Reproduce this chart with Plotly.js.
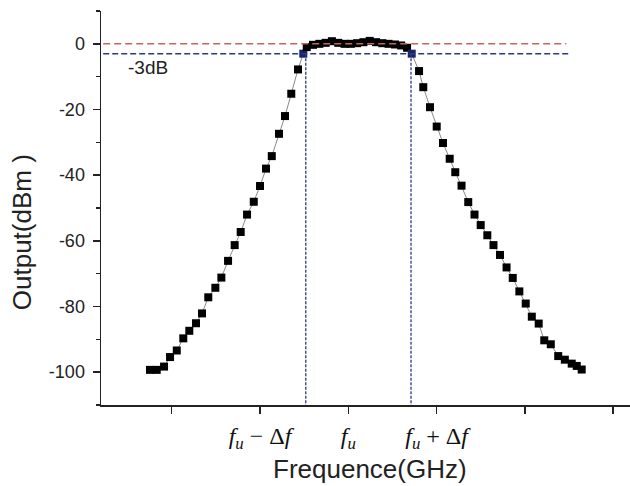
<!DOCTYPE html>
<html>
<head>
<meta charset="utf-8">
<script src="https://cdn.plot.ly/plotly-3.0.1.min.js"></script>
<style>
  html, body { margin: 0; padding: 0; background: #fff; }
  #chart { width: 630px; height: 486px; }
</style>
</head>
<body>
<div id="chart"></div>
<script>
// ---- data ----
const freq = [0.754, 0.830, 0.913, 0.981, 1.057, 1.131, 1.199, 1.275, 1.343, 1.414,
  1.494, 1.562, 1.638, 1.713, 1.781, 1.853, 1.929, 2.000, 2.068, 2.133,
  2.215, 2.283, 2.354, 2.430, 2.490,
  2.529, 2.600, 2.672, 2.743, 2.814, 2.886, 2.957, 3.028, 3.100, 3.171,
  3.242, 3.314, 3.385, 3.456, 3.528, 3.599, 3.665,
  3.718, 3.801, 3.849, 3.925, 4.001, 4.072, 4.148, 4.211, 4.282, 4.358,
  4.429, 4.499, 4.574, 4.644, 4.718, 4.792, 4.862, 4.937, 5.009, 5.078,
  5.156, 5.219, 5.293, 5.377, 5.452, 5.530, 5.587, 5.643];
const output = [-99.3, -99.3, -98.3, -95.4, -93.4, -89.7, -87.4, -85.1, -82.1, -77.2,
  -74.3, -71.2, -66.1, -61.3, -57.3, -52.0, -48.1, -43.3, -38.0, -34.2,
  -27.4, -22.0, -15.2, -7.8, -3.0,
  -1.0, -0.3, 0, 0.3, 0.8, 0.3, 0, 0, 0.2, 0.5,
  0.9, 0.5, 0.2, 0, -0.2, -0.5, -1.2,
  -3.0, -8.3, -13.2, -19.3, -25.2, -30.2, -35.0, -39.1, -43.2, -48.2,
  -52.0, -55.2, -58.3, -61.3, -64.3, -68.1, -71.3, -75.4, -79.1, -83.1,
  -85.2, -90.3, -91.5, -95.1, -96.2, -97.4, -98.1, -99.2];

const refLevel = 0;          // dBm
const halfPowerLevel = -3;   // dB
const refLineX = [0.224, 5.47];
const halfLineX = [0.224, 5.52];
const bandEdges = [2.518, 3.710];

const xTickVals = [1, 2, 3, 4, 5, 6];
const xTickText = ['', '<i>f</i><sub><i>u</i></sub> \u2212 \u0394<i>f</i>', '<i>f</i><sub><i>u</i></sub>',
  '<i>f</i><sub><i>u</i></sub> + \u0394<i>f</i>', '', ''];
const yTickVals = [0, -20, -40, -60, -80, -100];
const yTickText = ['0', '-20', '-40', '-60', '-80', '-100'];

const xTitle = 'Frequence(GHz)';
const yTitle = 'Output(dBm )';
const halfLabel = '-3dB';

// ---- styling ----
const markerColors = output.map(v => v === halfPowerLevel ? '#1c2466' : '#000000');

const traces = [
  {
    x: freq, y: output, type: 'scatter', mode: 'lines+markers',
    line: {color: '#8a8a8a', width: 1},
    marker: {symbol: 'square', size: 8, color: markerColors},
    hoverinfo: 'skip'
  },
  {
    x: refLineX, y: [refLevel, refLevel], type: 'scatter', mode: 'lines',
    line: {color: '#c4665a', width: 1.5, dash: '7px,4px'}, hoverinfo: 'skip'
  },
  {
    x: halfLineX, y: [halfPowerLevel, halfPowerLevel], type: 'scatter', mode: 'lines',
    line: {color: '#2b3a80', width: 1.5, dash: '6px,3px'}, hoverinfo: 'skip'
  },
  {
    x: [bandEdges[0], bandEdges[0]], y: [halfPowerLevel, -110], type: 'scatter', mode: 'lines',
    line: {color: '#2b3a80', width: 1.3, dash: '3px,1.5px'}, hoverinfo: 'skip'
  },
  {
    x: [bandEdges[1], bandEdges[1]], y: [halfPowerLevel, -110], type: 'scatter', mode: 'lines',
    line: {color: '#2b3a80', width: 1.3, dash: '3px,1.5px'}, hoverinfo: 'skip'
  }
];

const layout = {
  width: 630, height: 486,
  margin: {l: 101, r: 0, t: 11, b: 81},
  paper_bgcolor: '#ffffff', plot_bgcolor: '#ffffff',
  showlegend: false,
  font: {family: 'Liberation Sans, Arial, sans-serif', color: '#222'},
  xaxis: {
    range: [0.199, 6.19], showgrid: false, zeroline: false,
    showline: true, linecolor: '#222', linewidth: 1.5,
    ticks: 'outside', ticklen: 7, tickwidth: 1.5, tickcolor: '#222',
    tickmode: 'array', tickvals: xTickVals, ticktext: xTickText,
    tickfont: {family: 'Liberation Serif, Times New Roman, serif', size: 24, color: '#111'},
    ticklabelstandoff: 2
  },
  yaxis: {
    range: [-110, 10], showgrid: false, zeroline: false,
    showline: true, linecolor: '#222', linewidth: 1.5,
    ticks: 'outside', ticklen: 7, tickwidth: 1.5, tickcolor: '#222',
    tickmode: 'array', tickvals: yTickVals, ticktext: yTickText,
    tickfont: {size: 18, color: '#222'},
    ticklabelstandoff: 4,
    minor: {dtick: 10, tick0: 0, ticks: 'outside', ticklen: 4, tickwidth: 1.5, tickcolor: '#222', showgrid: false}
  },
  annotations: [
    {text: halfLabel, x: 0.482, y: -7.1, xref: 'x', yref: 'y', xanchor: 'left', yanchor: 'middle',
     showarrow: false, font: {size: 19, color: '#222'}},
    {text: xTitle, x: 0.5085, y: -0.162, xref: 'paper', yref: 'paper', xanchor: 'center', yanchor: 'middle',
     showarrow: false, font: {size: 26, color: '#222'}},
    {text: yTitle, x: -0.149, y: 0.439, xref: 'paper', yref: 'paper', xanchor: 'center', yanchor: 'middle',
     textangle: -90, showarrow: false, font: {size: 26, color: '#222'}}
  ]
};

Plotly.newPlot('chart', traces, layout, {displayModeBar: false, staticPlot: true});
</script>
</body>
</html>
